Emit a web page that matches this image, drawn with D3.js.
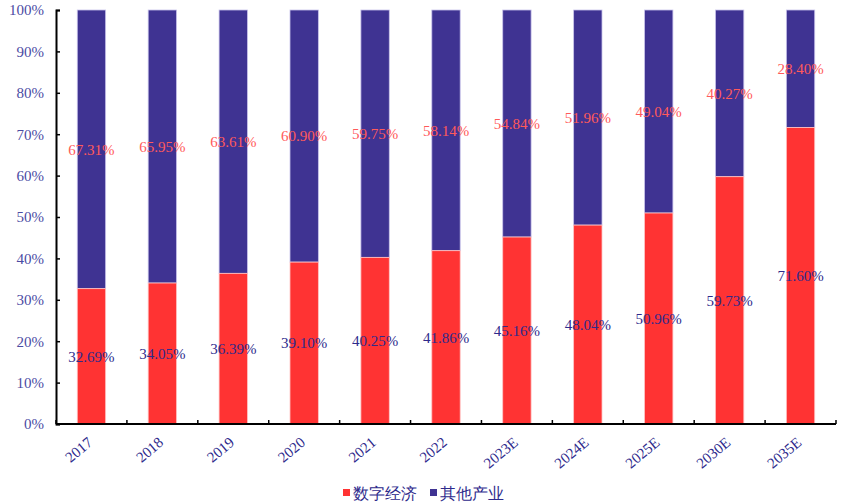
<!DOCTYPE html>
<html>
<head>
<meta charset="utf-8">
<script src="https://cdn.jsdelivr.net/npm/d3@7"></script>
<style>
  body { margin: 0; background: #fff; }
  svg text { font-family: "Liberation Serif", "Times New Roman", serif; }
</style>
</head>
<body>
<div id="chart"></div>
<script>
// categories and series (percent shares)
const years = ["2017", "2018", "2019", "2020", "2021", "2022", "2023E", "2024E", "2025E", "2030E", "2035E"];
const digital = [32.69, 34.05, 36.39, 39.10, 40.25, 41.86, 45.16, 48.04, 50.96, 59.73, 71.60];
const others = [67.31, 65.95, 63.61, 60.90, 59.75, 58.14, 54.84, 51.96, 49.04, 40.27, 28.40];
const seriesNames = ["数字经济", "其他产业"];
const yTicks = [0, 10, 20, 30, 40, 50, 60, 70, 80, 90, 100];

const red = "#ff3333", blue = "#3f3392";
const redText = "#ff5a5a", blueText = "#2e2a8c", tickText = "#4b4ba3";

const width = 850, height = 504;
const margin = {top: 10, right: 14, bottom: 80, left: 56};
const w = width - margin.left - margin.right;
const h = height - margin.top - margin.bottom;

const svg = d3.select("#chart").append("svg")
    .attr("width", width)
    .attr("height", height);

const g = svg.append("g")
    .attr("transform", "translate(" + margin.left + "," + margin.top + ")");

const x = d3.scaleBand()
    .domain(years)
    .range([0, w])
    .paddingInner(0.6)
    .paddingOuter(0.3);

const y = d3.scaleLinear()
    .domain([0, 100])
    .range([h, 0]);

const data = years.map((yr, i) => ({year: yr, digital: digital[i], others: others[i]}));

// bars
const bars = g.selectAll(".bar").data(data).enter().append("g").attr("class", "bar");

bars.append("rect")
    .attr("x", d => x(d.year))
    .attr("y", d => y(d.digital + d.others))
    .attr("width", x.bandwidth())
    .attr("height", d => y(d.digital) - y(d.digital + d.others))
    .attr("fill", blue)
    .attr("stroke", "#c9c3ea")
    .attr("stroke-width", 0.8);

bars.append("rect")
    .attr("x", d => x(d.year))
    .attr("y", d => y(d.digital))
    .attr("width", x.bandwidth())
    .attr("height", d => h - y(d.digital))
    .attr("fill", red)
    .attr("stroke", "#ffc4c4")
    .attr("stroke-width", 0.8);

// value labels
bars.append("text")
    .attr("x", d => x(d.year) + x.bandwidth() / 2)
    .attr("y", d => y(d.digital / 2))
    .attr("dy", "0.35em")
    .attr("text-anchor", "middle")
    .attr("font-size", 15)
    .attr("fill", blueText)
    .text(d => d.digital.toFixed(2) + "%");

bars.append("text")
    .attr("x", d => x(d.year) + x.bandwidth() / 2)
    .attr("y", d => y(d.digital + d.others / 2))
    .attr("dy", "0.35em")
    .attr("text-anchor", "middle")
    .attr("font-size", 15)
    .attr("fill", redText)
    .text(d => d.others.toFixed(2) + "%");

// y axis
const yAxis = d3.axisLeft(y)
    .tickValues(yTicks)
    .tickSize(-4)
    .tickPadding(12)
    .tickFormat(d => d + "%");

const gy = g.append("g").attr("class", "y-axis").call(yAxis);
gy.select(".domain").attr("stroke", "#000").attr("stroke-width", 2);
gy.selectAll(".tick line").attr("stroke", "#000").attr("stroke-width", 1.5);
gy.selectAll(".tick text")
    .attr("font-size", 15)
    .attr("fill", tickText)
    .attr("font-family", "Liberation Serif, serif");

// x axis with ticks at the band boundaries
const gx = g.append("g").attr("class", "x-axis")
    .attr("transform", "translate(0," + h + ")");

gx.append("line")
    .attr("x1", 0).attr("x2", w)
    .attr("stroke", "#000").attr("stroke-width", 2);

gx.selectAll(".bound").data(d3.range(years.length + 1)).enter().append("line")
    .attr("class", "bound")
    .attr("x1", i => i * (w / years.length))
    .attr("x2", i => i * (w / years.length))
    .attr("y1", 0).attr("y2", -4)
    .attr("stroke", "#000").attr("stroke-width", 1.5);

gx.selectAll(".xlabel").data(years).enter().append("text")
    .attr("class", "xlabel")
    .attr("text-anchor", "end")
    .attr("font-size", 15)
    .attr("fill", blueText)
    .attr("transform", d => "translate(" + (x(d) + x.bandwidth() / 2 + 2) + "," + 20 + ") rotate(-40)")
    .text(d => d);

// legend
const legend = svg.append("g").attr("transform", "translate(343,493)");
const legendItems = [
    {name: seriesNames[0], color: red, x: 0},
    {name: seriesNames[1], color: blue, x: 87}
];
legendItems.forEach(item => {
    legend.append("rect")
        .attr("x", item.x).attr("y", -4)
        .attr("width", 7).attr("height", 7)
        .attr("fill", item.color);
    legend.append("text")
        .attr("x", item.x + 10).attr("y", 0)
        .attr("dy", "0.35em")
        .attr("font-size", 16)
        .attr("font-family", "Noto Sans CJK SC, sans-serif")
        .attr("fill", blueText)
        .text(item.name);
});
</script>
</body>
</html>
